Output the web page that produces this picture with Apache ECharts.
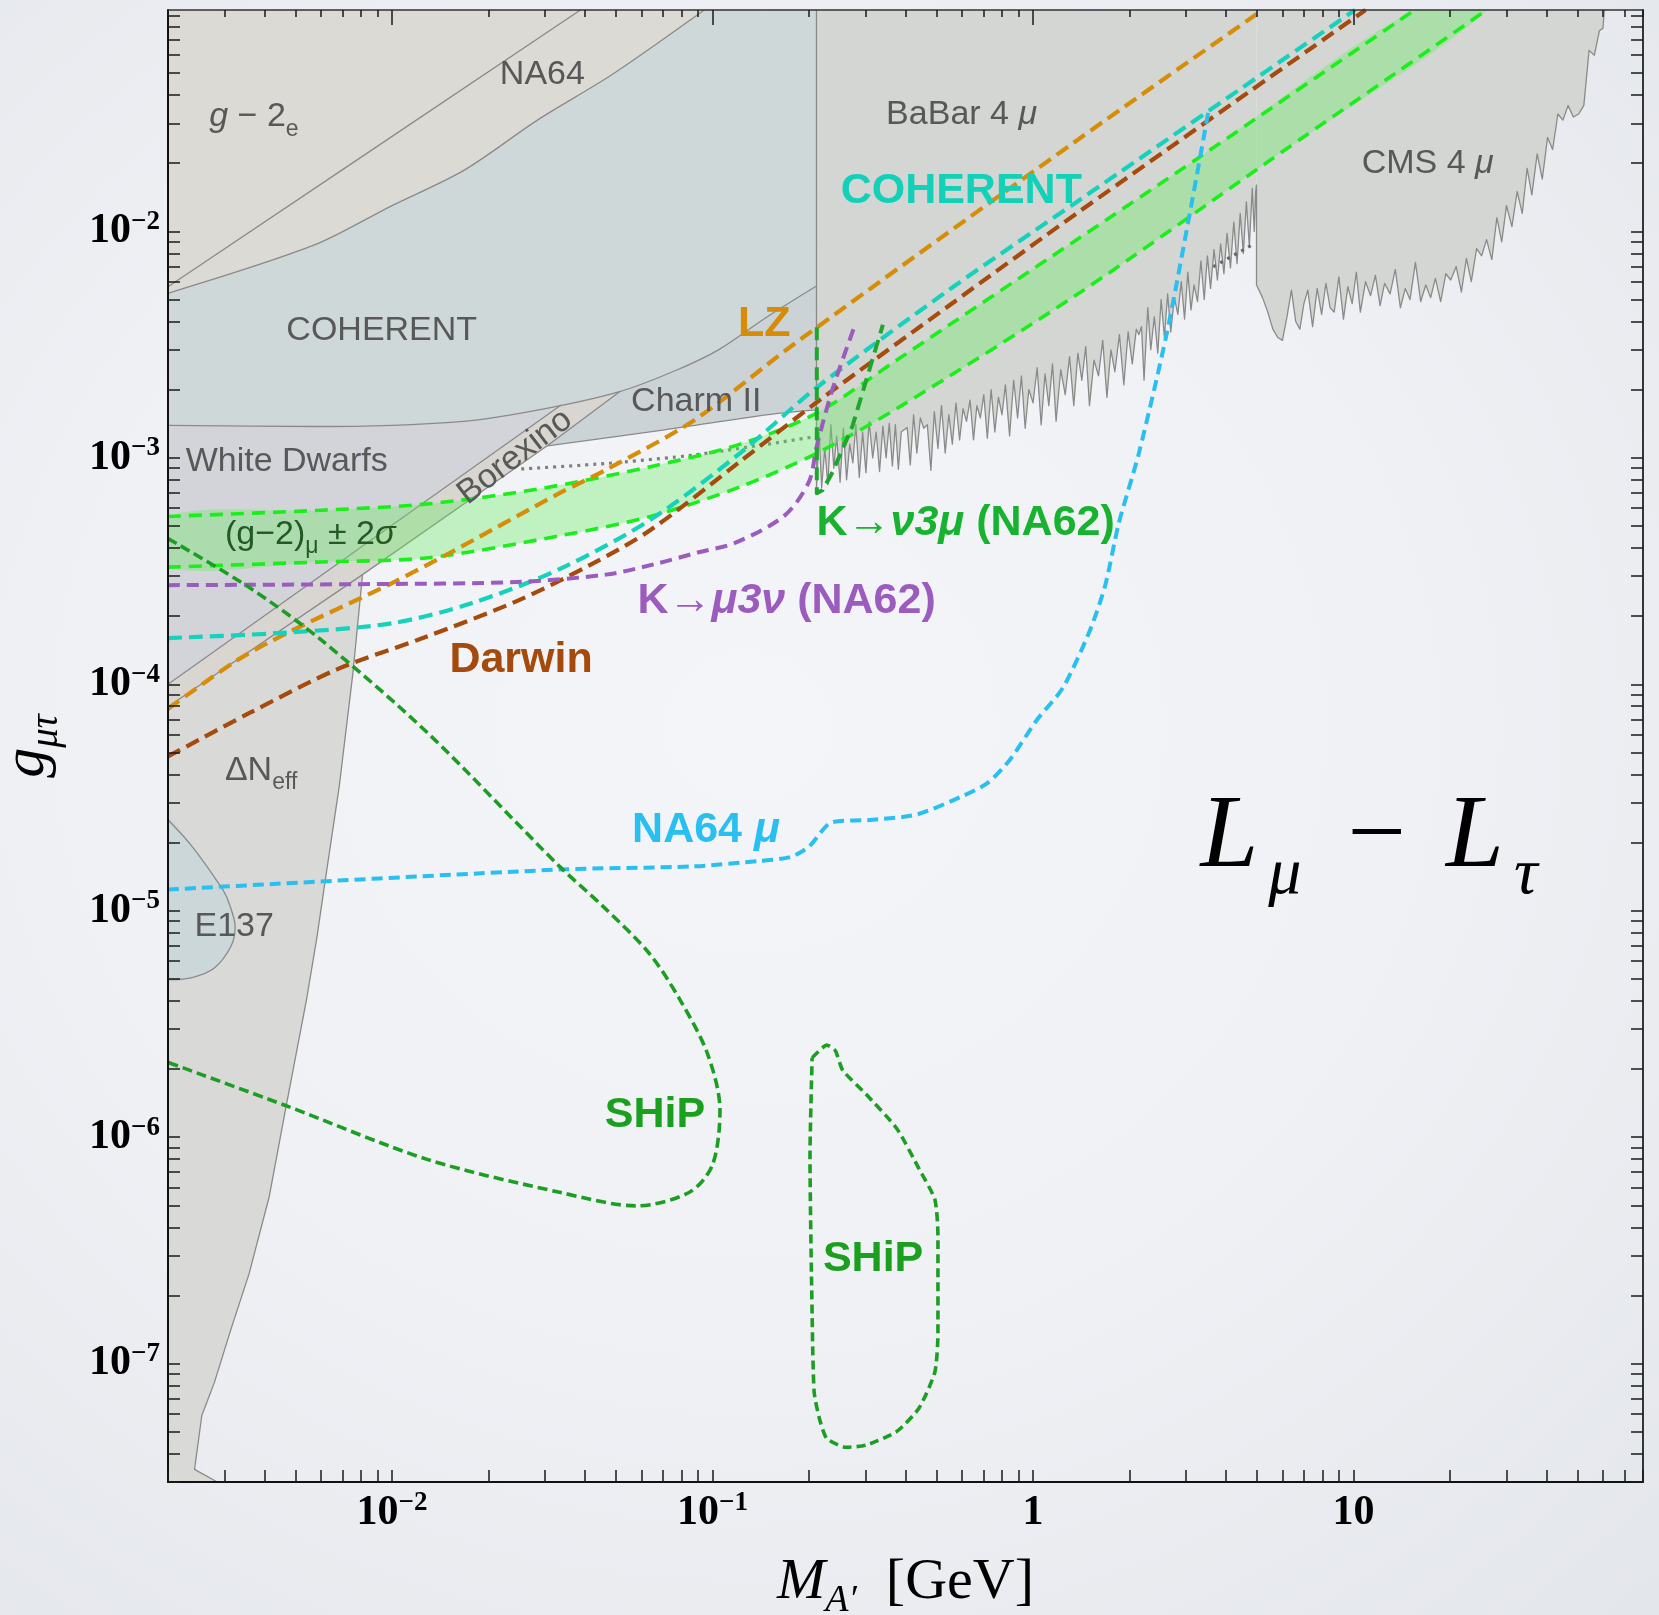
<!DOCTYPE html>
<html>
<head>
<meta charset="utf-8">
<title>L_mu - L_tau</title>
<script src="https://cdn.jsdelivr.net/npm/echarts@6.0.0/dist/echarts.min.js"></script>
<style>
  html, body { margin: 0; padding: 0; }
  body {
    width: 1659px; height: 1615px; overflow: hidden;
    background: radial-gradient(ellipse 80% 75% at 45% 45%, #f4f5f8 0%, #f0f1f5 50%, #e3e6eb 100%);
  }
  #chart { width: 1659px; height: 1615px; }
</style>
</head>
<body>
<div id="chart"></div>
<script>
// ---------- axis ranges and ticks ----------
const X_MIN = 0.002, X_MAX = 80;      // M_A' [GeV]
const Y_MIN = 3e-8, Y_MAX = 0.095;    // g_mu-tau

const xMajorTicks = [0.01, 0.1, 1, 10];
const yMajorTicks = [1e-7, 1e-6, 1e-5, 1e-4, 1e-3, 1e-2];
const mantissas = [2, 3, 4, 5, 6, 7, 8, 9];
const xDecades = [1e-3, 1e-2, 1e-1, 1, 10];
const yDecades = [1e-8, 1e-7, 1e-6, 1e-5, 1e-4, 1e-3, 1e-2];

function minorTicks(decades, lo, hi) {
  const out = [];
  decades.forEach(d => mantissas.forEach(m => {
    const v = +(m * d).toPrecision(6);
    if (v >= lo * 0.9999 && v <= hi * 1.0001) out.push(v);
  }));
  return out;
}
const xMinorTicks = minorTicks(xDecades, X_MIN, X_MAX);
const yMinorTicks = minorTicks(yDecades, Y_MIN, Y_MAX);

// ---------- excluded regions: boundary curves [M (GeV), g] ----------
const g2eEdge = [[0.002, 5.7e-3], [8.5e-3, 2.25e-2], [0.0387, 0.095]];
const na64Edge = [[0.002, 5.33e-3], [5.70e-3, 8.69e-3], [0.01, 1.30e-2], [1.675e-2, 1.86e-2],
  [2.88e-2, 3.14e-2], [4.82e-2, 4.89e-2], [9.42e-2, 0.095]];
const coherentEdge = [[0.002, 1.39e-3], [5.70e-3, 1.375e-3], [1.675e-2, 1.45e-3], [3.01e-2, 1.65e-3],
  [5.13e-2, 1.96e-3], [7.67e-2, 2.43e-3], [0.104, 2.99e-3], [0.1486, 4.21e-3], [0.211, 5.74e-3]];
const wdEdge = [[0.002, 1.0e-4], [3.37e-2, 1.71e-3]];
const borexinoEdge = [[0.002, 7.96e-5], [8.09e-3, 3.05e-4], [3.05e-2, 1.13e-3], [5.13e-2, 1.96e-3]];
const charmEdge = [[3.05e-2, 1.13e-3], [7.08e-2, 1.33e-3], [0.160, 1.57e-3], [0.211, 1.63e-3]];
const dNeffEdge = [[2.85e-3, 3e-8], [2.42e-3, 3.41e-8], [2.55e-3, 5.9e-8], [2.79e-3, 8.24e-8],
  [3.15e-3, 1.43e-7], [3.58e-3, 2.49e-7], [4.14e-3, 5.47e-7], [4.65e-3, 1.32e-6], [5.41e-3, 4.05e-6],
  [5.83e-3, 7.62e-6], [6.15e-3, 1.28e-5], [6.84e-3, 3.52e-5], [7.55e-3, 1.12e-4], [8.09e-3, 3.05e-4]];
const e137Edge = [[0.002, 2.52e-5], [2.38e-3, 1.92e-5], [2.92e-3, 1.28e-5], [3.08e-3, 1.11e-5],
  [3.24e-3, 8.49e-6], [3.15e-3, 7.0e-6], [2.79e-3, 5.58e-6], [2.38e-3, 5.07e-6], [0.002, 4.96e-6]];

const babarEdge = [
  [0.211, 7.2e-4], [0.215, 1.3e-3], [0.219, 7.4e-4], [0.224, 1.1e-3], [0.229, 7.6e-4], [0.234, 1.4e-3],
  [0.239, 9.0e-4], [0.244, 1.25e-3], [0.25, 7.8e-4], [0.256, 1.35e-3], [0.262, 8.0e-4], [0.268, 1.15e-3],
  [0.274, 9.5e-4], [0.28, 1.4e-3], [0.287, 8.2e-4], [0.294, 1.3e-3], [0.301, 8.6e-4], [0.308, 1.45e-3],
  [0.316, 1.0e-3], [0.324, 1.3e-3], [0.332, 8.7e-4], [0.34, 1.38e-3], [0.348, 1.0e-3], [0.356, 1.42e-3],
  [0.364, 9.2e-4], [0.372, 1.4e-3], [0.38, 8.9e-4], [0.388, 1.3e-3], [0.396, 1.33e-3], [0.405, 1.36e-3],
  [0.414, 9.3e-4], [0.424, 1.55e-3], [0.434, 1.05e-3], [0.445, 1.5e-3], [0.456, 1.35e-3], [0.468, 1.4e-3],
  [0.48, 8.8e-4], [0.492, 1.6e-3], [0.505, 1.1e-3], [0.518, 1.7e-3], [0.532, 1.05e-3], [0.546, 1.55e-3],
  [0.56, 1.15e-3], [0.575, 1.75e-3], [0.59, 1.2e-3], [0.605, 1.65e-3], [0.62, 1.45e-3], [0.636, 1.8e-3],
  [0.652, 1.2e-3], [0.668, 1.7e-3], [0.685, 1.5e-3], [0.702, 1.9e-3], [0.72, 1.22e-3], [0.74, 2.0e-3],
  [0.76, 1.3e-3], [0.78, 1.85e-3], [0.80, 1.55e-3], [0.82, 2.1e-3], [0.845, 1.25e-3], [0.87, 2.2e-3],
  [0.895, 1.5e-3], [0.92, 2.3e-3], [0.945, 1.35e-3], [0.97, 2.0e-3], [1.0, 1.75e-3], [1.03, 2.5e-3],
  [1.06, 1.4e-3], [1.09, 2.35e-3], [1.12, 1.7e-3], [1.15, 2.6e-3], [1.18, 1.45e-3], [1.22, 2.45e-3],
  [1.26, 1.9e-3], [1.3, 2.8e-3], [1.34, 1.7e-3], [1.38, 2.9e-3], [1.42, 2.2e-3], [1.46, 3.1e-3],
  [1.5, 1.7e-3], [1.55, 2.7e-3], [1.6, 2.3e-3], [1.65, 3.3e-3], [1.7, 1.85e-3], [1.75, 3.0e-3],
  [1.8, 2.4e-3], [1.86, 3.5e-3], [1.92, 2.1e-3], [1.98, 3.6e-3], [2.04, 2.6e-3], [2.1, 3.7e-3],
  [2.14, 3.5e-3], [2.18, 3.8e-3], [2.22, 2.2e-3], [2.28, 4.6e-3], [2.33, 3.0e-3], [2.39, 4.2e-3],
  [2.45, 2.9e-3], [2.51, 5.0e-3], [2.57, 3.4e-3], [2.63, 5.3e-3], [2.69, 3.6e-3], [2.76, 5.1e-3],
  [2.83, 4.3e-3], [2.9, 6.0e-3], [2.97, 4.1e-3], [3.04, 6.6e-3], [3.11, 4.5e-3], [3.18, 5.8e-3],
  [3.26, 4.9e-3], [3.34, 7.4e-3], [3.42, 5.0e-3], [3.5, 7.8e-3], [3.58, 5.6e-3], [3.67, 8.3e-3],
  [3.76, 6.1e-3], [3.85, 8.8e-3], [3.94, 6.5e-3], [4.03, 9.8e-3], [4.13, 6.9e-3], [4.23, 1.1e-2],
  [4.33, 7.2e-3], [4.43, 1.2e-2], [4.53, 8.0e-3], [4.63, 1.35e-2], [4.73, 8.6e-3], [4.83, 1.55e-2],
  [4.9, 1.0e-2], [4.95, 1.5e-2], [4.98, 1.6e-2]];

const cmsEdge = [
  [4.98, 5.8e-3], [5.2, 5.1e-3], [5.4, 4.4e-3], [5.6, 3.7e-3], [5.8, 3.4e-3], [6.0, 3.3e-3],
  [6.2, 4.2e-3], [6.4, 5.5e-3], [6.6, 4.0e-3], [6.8, 3.7e-3], [7.0, 4.8e-3], [7.2, 5.5e-3],
  [7.45, 3.8e-3], [7.7, 5.6e-3], [7.95, 4.3e-3], [8.2, 5.9e-3], [8.45, 4.6e-3], [8.7, 4.4e-3],
  [9.0, 6.3e-3], [9.3, 4.1e-3], [9.6, 5.7e-3], [9.9, 4.8e-3], [10.2, 6.6e-3], [10.5, 4.4e-3],
  [10.9, 6.0e-3], [11.3, 5.2e-3], [11.7, 6.4e-3], [12.1, 4.7e-3], [12.5, 5.9e-3], [13.0, 5.3e-3],
  [13.5, 6.8e-3], [14.0, 4.6e-3], [14.5, 5.6e-3], [15.0, 5.0e-3], [15.6, 7.3e-3], [16.2, 4.9e-3],
  [16.8, 5.8e-3], [17.4, 5.1e-3], [18.0, 6.2e-3], [18.7, 4.9e-3], [19.4, 6.5e-3], [20.1, 6.1e-3],
  [20.9, 7.0e-3], [21.7, 5.4e-3], [22.5, 7.6e-3], [23.3, 6.0e-3], [24.2, 8.4e-3], [25.1, 7.8e-3],
  [26.0, 9.2e-3], [27.0, 7.5e-3], [28.0, 1.15e-2], [29.0, 9.0e-3], [30.0, 1.3e-2], [31.2, 1.05e-2],
  [32.4, 1.5e-2], [33.6, 1.2e-2], [34.8, 1.9e-2], [36.0, 1.45e-2], [37.4, 2.2e-2], [38.8, 1.7e-2],
  [40.3, 2.6e-2], [41.8, 2.3e-2], [43.4, 3.3e-2], [45.0, 3.1e-2], [46.7, 3.6e-2], [48.5, 3.2e-2],
  [50.4, 3.3e-2], [52.3, 3.6e-2], [54.3, 6.3e-2], [56.4, 6.0e-2], [58.5, 7.7e-2], [60.0, 7.9e-2],
  [60.6, 0.095]];

// dotted reference curves
const midDotted = [[2.53e-2, 8.93e-4], [4.65e-2, 9.44e-4], [8.79e-2, 1.03e-3], [0.2095, 1.24e-3]];
const babarDotted = [[3.65, 6.98e-3], [4.91, 8.84e-3]];

// ---------- (g-2)_mu band and projected sensitivities ----------
const g2muUpper = [[0.002, 5.51e-4], [6.01e-3, 5.87e-4], [1.294e-2, 6.26e-4], [2.88e-2, 7.30e-4],
  [6.40e-2, 9.14e-4], [0.122, 1.15e-3], [0.212, 1.58e-3], [0.381, 2.74e-3], [1.39, 9.33e-3],
  [3.31, 2.13e-2], [15.5, 0.095]];
const g2muLower = [[0.002, 3.29e-4], [6.01e-3, 3.47e-4], [1.294e-2, 3.62e-4], [3.37e-2, 4.54e-4],
  [6.40e-2, 5.51e-4], [0.122, 7.45e-4], [0.212, 1.05e-3], [0.381, 1.67e-3], [1.39, 5.33e-3],
  [5.46, 2.05e-2], [26, 0.095]];
const lzProj = [[0.002, 7.78e-5], [3.24e-3, 1.26e-4], [4.65e-3, 1.67e-4], [0.01, 2.80e-4],
  [1.507e-2, 3.79e-4], [3.33e-2, 6.98e-4], [4.65e-2, 8.85e-4], [8.79e-2, 1.47e-3], [0.178, 3.15e-3],
  [1.39, 2.56e-2], [5.2, 0.095]];
const darwinProj = [[0.002, 4.80e-5], [3.58e-3, 7.45e-5], [6.79e-3, 1.17e-4], [1.247e-2, 1.60e-4],
  [2.45e-2, 2.33e-4], [4.21e-2, 3.40e-4], [6.40e-2, 4.80e-4], [0.122, 9.64e-4], [0.216, 1.80e-3],
  [0.557, 4.79e-3], [1.39, 1.22e-2], [10.9, 0.095]];
const coherentProj = [[0.002, 1.60e-4], [4.65e-3, 1.69e-4], [0.01, 1.86e-4], [1.77e-2, 2.28e-4],
  [3.37e-2, 3.25e-4], [6.40e-2, 5.33e-4], [0.122, 1.05e-3], [0.212, 2.05e-3], [0.557, 5.62e-3],
  [1.39, 1.37e-2], [10.1, 0.095]];
const kMu3Nu = [[0.002, 2.74e-4], [8.53e-3, 2.77e-4], [2.45e-2, 2.83e-4], [4.65e-2, 3.05e-4],
  [6.64e-2, 3.40e-4], [8.99e-2, 3.82e-4], [0.1175, 4.21e-4], [0.168, 5.57e-4], [0.200, 7.85e-4],
  [0.211, 1.11e-3], [0.236, 1.98e-3], [0.279, 3.90e-3]];
const kNu3Mu = [[0.2115, 3.77e-3], [0.2115, 6.98e-4], [0.2207, 7.21e-4], [0.236, 8.57e-4],
  [0.273, 1.375e-3], [0.340, 3.87e-3]];
const na64Mu = [[0.002, 1.24e-5], [3.33e-2, 1.52e-5], [8.73e-2, 1.57e-5], [0.141, 1.66e-5],
  [0.176, 1.73e-5], [0.200, 1.92e-5], [0.236, 2.46e-5], [0.316, 2.52e-5], [0.434, 2.66e-5],
  [0.597, 3.19e-5], [0.722, 3.67e-5], [0.847, 4.64e-5], [1.025, 6.92e-5], [1.24, 9.66e-5],
  [1.50, 1.71e-4], [1.68, 2.74e-4], [1.85, 5.12e-4], [2.14, 1.05e-3], [2.61, 3.51e-3],
  [3.08, 1.19e-2], [3.54, 3.50e-2]];
const shipLow = [[0.002, 4.40e-4], [3.58e-3, 2.68e-4], [6.01e-3, 1.57e-4], [1.294e-2, 6.08e-5],
  [3.33e-2, 1.57e-5], [4.57e-2, 1.04e-5], [6.34e-2, 6.49e-6], [7.91e-2, 4.05e-6], [9.64e-2, 2.34e-6],
  [0.1055, 1.32e-6], [0.100, 7.55e-7], [8.47e-2, 5.71e-7], [5.79e-2, 4.97e-7], [3.33e-2, 5.71e-7],
  [1.294e-2, 7.96e-7], [4.65e-3, 1.38e-6], [0.002, 2.14e-6]];
const shipHigh = [[0.2045, 2.24e-6], [0.2275, 2.55e-6], [0.2416, 2.41e-6], [0.255, 1.97e-6],
  [0.301, 1.55e-6], [0.376, 1.09e-6], [0.441, 7.24e-7], [0.494, 5.30e-7], [0.505, 3.67e-7],
  [0.505, 1.36e-7], [0.494, 9.18e-8], [0.441, 6.37e-8], [0.376, 5.02e-8], [0.301, 4.36e-8],
  [0.261, 4.27e-8], [0.2275, 4.66e-8], [0.216, 5.65e-8], [0.2075, 7.48e-8], [0.2045, 1.66e-7],
  [0.2014, 8.22e-7], [0.2045, 2.24e-6]];

// ---------- text annotations, anchored in data units ----------
const regionLabels = [
  { at: [2.69e-3, 3.21e-2], text: '{i|g} − 2{s|e}' },
  { at: [2.17e-2, 4.94e-2], text: 'NA64' },
  { at: [0.348, 3.28e-2], text: 'BaBar 4 {i|μ}' },
  { at: [10.6, 2.0e-2], text: 'CMS 4 {i|μ}' },
  { at: [4.68e-3, 3.66e-3], text: 'COHERENT' },
  { at: [5.57e-2, 1.78e-3], text: 'Charm II' },
  { at: [2.27e-3, 9.64e-4], text: 'White Dwarfs' },
  { at: [2.42e-2, 1.01e-3], text: 'Borexino', rotate: 37.5, align: 'center' },
  { at: [3.01e-3, 4.59e-4], text: '(g−2){s|μ} ± 2{i|σ}', color: '#235a23' },
  { at: [3.01e-3, 4.17e-5], text: 'ΔN{s|eff}' },
  { at: [2.42e-3, 8.49e-6], text: 'E137' }
];
const curveLabels = [
  { at: [0.251, 1.50e-2], text: 'COHERENT', color: '#13d1b8' },
  { at: [0.120, 3.90e-3], text: 'LZ', color: '#d68c06' },
  { at: [0.211, 5.16e-4], text: 'K→{i|ν3μ} (NA62)', color: '#17b330' },
  { at: [5.83e-2, 2.33e-4], text: 'K→{i|μ3ν} (NA62)', color: '#9b5cbe' },
  { at: [1.51e-2, 1.28e-4], text: 'Darwin', color: '#a44a0c' },
  { at: [5.61e-2, 2.26e-5], text: 'NA64 {i|μ}', color: '#29bff1' },
  { at: [4.61e-2, 1.25e-6], text: 'SHiP', color: '#1a9f1f' },
  { at: [0.221, 2.90e-7], text: 'SHiP', color: '#1a9f1f' }
];
const modelLabel = { at: [3.33, 2.09e-5], text: '{L|L}{g1| }{ls|μ}{g2| }{op|−}{g3| }{L|L}{g1| }{ls|τ}' };

// ---------- styling ----------
const SANS = '"Liberation Sans", Arial, Helvetica, sans-serif';
const SERIF = '"Liberation Serif", "Times New Roman", serif';
const EDGE = '#8a8a8a';

const series = [];

// closed polygon fill
function fillRegion(name, pts, color, z, smooth) {
  series.push({
    type: 'custom', name, coordinateSystem: 'cartesian2d', silent: true, clip: true, z,
    data: [pts[0]],
    renderItem: (params, api) => ({
      type: 'polygon',
      shape: { points: pts.map(p => api.coord(p)), smooth: smooth || 0 },
      style: { fill: color }
    })
  });
}
// fill from a boundary curve up to the top of the frame
function fillAbove(name, pts, color, z, smooth) {
  series.push({
    type: 'line', name, data: pts, symbol: 'none', showSymbol: false, silent: true, clip: true, z,
    smooth: smooth || false,
    lineStyle: { width: 0, opacity: 0 },
    areaStyle: { color, opacity: 1, origin: 'end' },
    emphasis: { disabled: true }
  });
}
function curve(name, pts, color, width, dash, smooth, z) {
  series.push({
    type: 'line', name, data: pts, symbol: 'none', showSymbol: false, silent: true, clip: true, z,
    smooth: smooth || false,
    lineStyle: { color, width, type: dash || 'solid', cap: 'butt', join: 'round' },
    emphasis: { disabled: true }
  });
}

// filled exclusion regions, back to front
fillRegion('ΔNeff', [[X_MIN, Y_MIN], ...dNeffEdge, borexinoEdge[0]], '#d9d9d7', 1);
fillRegion('E137', e137Edge, '#ccd7da', 2, 0.3);
fillAbove('Charm II', charmEdge, '#ccd3d7', 2, 0.3);
fillRegion('White Dwarfs', [[X_MIN, Y_MAX], wdEdge[0], wdEdge[1], [wdEdge[1][0], Y_MAX]], '#d3d4da', 2);
fillRegion('Borexino', [...wdEdge, ...borexinoEdge.slice().reverse()], '#d9d6d1', 2);
fillAbove('COHERENT', coherentEdge, '#cfd8d8', 2, 0.3);
fillAbove('NA64', na64Edge, '#dbdad5', 2, 0.3);
fillRegion('BaBar', [[0.211, Y_MAX], ...babarEdge, [babarEdge[babarEdge.length - 1][0], Y_MAX]], '#d3d6d2', 2);
fillRegion('CMS', [[cmsEdge[0][0], Y_MAX], ...cmsEdge], '#d3d6d2', 2);

// region outlines
curve('edge g-2e', g2eEdge, EDGE, 1.3, 'solid', false, 3);
curve('edge NA64', na64Edge, EDGE, 1.3, 'solid', 0.3, 3);
curve('edge COHERENT', coherentEdge, EDGE, 1.3, 'solid', 0.3, 3);
curve('edge Charm', charmEdge, EDGE, 1.3, 'solid', 0.3, 3);
curve('edge WD', wdEdge, EDGE, 1.3, 'solid', false, 3);
curve('edge Borexino', borexinoEdge, EDGE, 1.3, 'solid', false, 3);
curve('edge ΔNeff', dNeffEdge, EDGE, 1.3, 'solid', false, 3);
curve('edge E137', e137Edge, EDGE, 1.3, 'solid', 0.3, 3);
curve('edge BaBar/CMS', [[0.211, Y_MAX], ...babarEdge, ...cmsEdge], EDGE, 1.3, 'solid', false, 3);
curve('dotted mid', midDotted, '#7f7f7f', 3.2, [3, 5], 0.2, 3);
curve('dotted BaBar', babarDotted, '#6a6a6a', 3.2, [3, 5], false, 3);

// (g-2)_mu band
fillRegion('g2mu', [...g2muUpper, ...g2muLower.slice().reverse()], 'rgba(96,238,90,0.34)', 4, 0.3);

// dashed sensitivity curves
curve('g2muUpper', g2muUpper, '#1bee1b', 3.6, [13, 8], 0.3, 6);
curve('g2muLower', g2muLower, '#1bee1b', 3.6, [13, 8], 0.3, 6);
curve('LZ', lzProj, '#d68d08', 4.2, [14, 7], 0.3, 7);
curve('Darwin', darwinProj, '#a54b0d', 4.2, [14, 7], 0.3, 7);
curve('COHERENT proj', coherentProj, '#16d1bc', 4.2, [14, 7], 0.3, 7);
curve('K→μ3ν', kMu3Nu, '#9a5cbd', 4, [12, 7], 0.3, 7);
curve('K→ν3μ', kNu3Mu, '#1ea72c', 4, [13, 7], false, 7);
curve('NA64μ', na64Mu, '#29bff1', 4, [11, 6], 0.25, 7);
curve('SHiP low', shipLow, '#1c9e22', 3.6, [10, 5], 0.3, 7);
curve('SHiP high', shipHigh, '#1c9e22', 3.6, [9, 5], 0.2, 7);

// text
function tokens(size, family, weight, color) {
  const base = { fontSize: size, fontFamily: family, fontWeight: weight, fill: color, color: color };
  const sub = Math.round(size * 0.68);
  return {
    i: Object.assign({}, base, { fontStyle: 'italic' }),
    s: Object.assign({}, base, { fontSize: sub, lineHeight: sub, fontStyle: 'normal', verticalAlign: 'bottom' })
  };
}
function labelSeries(list, size, weight, defColor) {
  series.push({
    type: 'custom', name: 'labels', coordinateSystem: 'cartesian2d', silent: true, clip: false, z: 30,
    data: list.map(a => a.at),
    renderItem: (params, api) => {
      const a = list[params.dataIndex];
      const p = api.coord(a.at);
      const color = a.color || defColor;
      return {
        type: 'text', x: p[0], y: p[1], rotation: (a.rotate || 0) * Math.PI / 180,
        style: {
          text: a.text, fill: color, fontSize: size, fontFamily: SANS, fontWeight: weight,
          lineHeight: Math.round(size * 1.4), align: a.align || 'left', verticalAlign: 'middle',
          rich: tokens(size, SANS, weight, color)
        }
      };
    }
  });
}
labelSeries(regionLabels, 34, 'normal', '#585858');
labelSeries(curveLabels, 43, 'bold', '#333');
series.push({
  type: 'custom', name: 'model', coordinateSystem: 'cartesian2d', silent: true, clip: false, z: 30,
  data: [modelLabel.at],
  renderItem: (params, api) => {
    const p = api.coord(modelLabel.at);
    const gap = w => ({ fontSize: 20, fontFamily: SERIF, fill: '#000', width: w, lineHeight: 140 });
    return {
      type: 'text', x: p[0], y: p[1],
      style: {
        text: modelLabel.text, fill: '#000', fontSize: 104, fontFamily: SERIF, lineHeight: 140,
        align: 'left', verticalAlign: 'middle',
        rich: {
          L: { fontSize: 104, fontFamily: SERIF, fontStyle: 'italic', fill: '#000', lineHeight: 140 },
          ls: { fontSize: 66, fontFamily: SERIF, fontStyle: 'italic', fill: '#000', lineHeight: 66, verticalAlign: 'bottom' },
          op: { fontSize: 104, fontFamily: SERIF, fill: '#000', lineHeight: 140 },
          g1: gap(10), g2: gap(46), g3: gap(40)
        }
      }
    };
  }
});

// ---------- axes ----------
const lg = Math.log10;
const tickRich = {
  b: { fontFamily: SERIF, fontWeight: 'bold', fontSize: 42, color: '#000', lineHeight: 46 },
  sup: { fontFamily: SERIF, fontWeight: 'bold', fontSize: 27, color: '#000', lineHeight: 27, verticalAlign: 'top' }
};
function powLabel(v) {
  const n = Math.round(v);
  if (n === 0) return '{b|1}';
  if (n === 1) return '{b|10}';
  return '{b|10}{sup|' + (n < 0 ? '−' : '') + Math.abs(n) + '}';
}
function tickAxis(dim, position, values, len, o) {
  const lo = dim === 'x' ? X_MIN : Y_MIN, hi = dim === 'x' ? X_MAX : Y_MAX;
  return Object.assign({
    type: 'value', position, min: lg(lo), max: lg(hi), z: 10, silent: true,
    axisLine: { show: !!o.line, onZero: false, lineStyle: { color: o.lineColor || '#111', width: o.lineWidth || 2 } },
    axisTick: { show: true, inside: true, length: len, customValues: values.map(lg), lineStyle: { color: '#1a1a1a', width: 1.5 } },
    axisLabel: o.labels
      ? { show: true, customValues: values.map(lg), formatter: powLabel, rich: tickRich, margin: 8 }
      : { show: false },
    splitLine: { show: false },
    splitArea: { show: false },
    axisPointer: { show: false }
  }, o.extra || {});
}

const option = {
  animation: false,
  backgroundColor: 'transparent',
  textStyle: { fontFamily: SANS },
  grid: { left: 168, right: 16, top: 10, bottom: 133, containLabel: false, outerBoundsMode: 'none' },
  xAxis: [
    { type: 'log', logBase: 10, min: X_MIN, max: X_MAX, show: false },
    tickAxis('x', 'bottom', xMajorTicks, 12, {
      line: true, labels: true, extra: {
        name: '{m|M}{s|A′}{t|  [GeV]}', nameLocation: 'middle', nameGap: 64,
        nameTextStyle: {
          rich: {
            m: { fontFamily: SERIF, fontStyle: 'italic', fontSize: 58, color: '#000', lineHeight: 74 },
            s: { fontFamily: SERIF, fontStyle: 'italic', fontSize: 38, color: '#000', lineHeight: 38, verticalAlign: 'bottom' },
            t: { fontFamily: SERIF, fontSize: 58, color: '#000', lineHeight: 74 }
          }
        }
      }
    }),
    tickAxis('x', 'bottom', xMinorTicks, 12, {}),
    tickAxis('x', 'top', xMajorTicks, 15, { line: true, lineColor: '#333', lineWidth: 1.6 }),
    tickAxis('x', 'top', xMinorTicks, 7, {})
  ],
  yAxis: [
    { type: 'log', logBase: 10, min: Y_MIN, max: Y_MAX, show: false },
    tickAxis('y', 'left', yMajorTicks, 12, {
      line: true, labels: true, extra: {
        name: '{g|g}{s|μτ}', nameLocation: 'middle', nameGap: 102, nameRotate: 90,
        nameTextStyle: {
          rich: {
            g: { fontFamily: SERIF, fontStyle: 'italic', fontSize: 60, color: '#000', lineHeight: 78 },
            s: { fontFamily: SERIF, fontStyle: 'italic', fontSize: 39, color: '#000', lineHeight: 39, verticalAlign: 'bottom' }
          }
        }
      }
    }),
    tickAxis('y', 'left', yMinorTicks, 12, {}),
    tickAxis('y', 'right', yMajorTicks, 12, { line: true, lineColor: '#222', lineWidth: 1.8 }),
    tickAxis('y', 'right', yMinorTicks, 12, {})
  ],
  series: series.map(s => Object.assign({ xAxisIndex: 0, yAxisIndex: 0 }, s))
};

const chart = echarts.init(document.getElementById('chart'), null, { renderer: 'canvas', width: 1659, height: 1615 });
chart.setOption(option);
</script>
</body>
</html>
